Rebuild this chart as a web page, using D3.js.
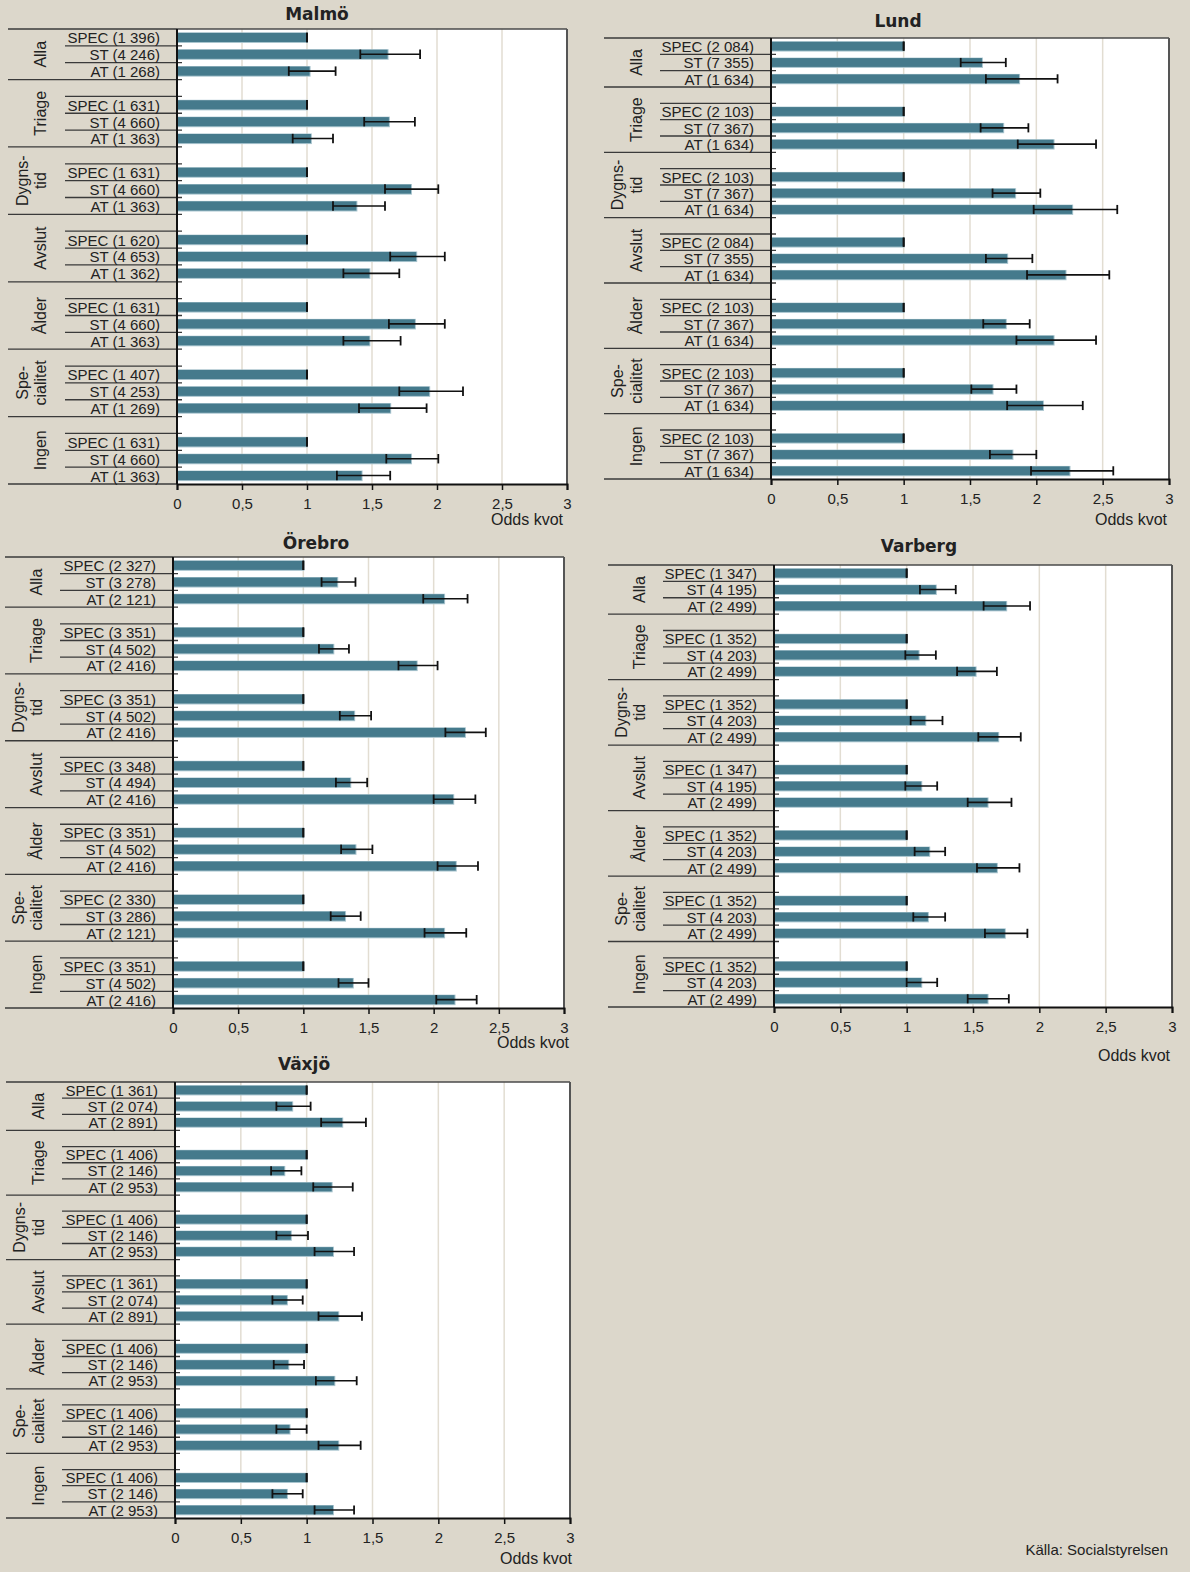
<!DOCTYPE html>
<html>
<head>
<meta charset="utf-8">
<script src="https://cdn.jsdelivr.net/npm/d3@7"></script>
<style>
  body { margin: 0; background: #dcd7cb; }
  svg { display: block; }
  text { font-family: "Liberation Sans", Arial, sans-serif; fill: #222; }
</style>
</head>
<body>
<svg id="chart" width="1190" height="1572"></svg>
<script>
// Adjustment groups (a "|" marks a manual line break) and physician roles
const groups = ["Alla", "Triage", "Dygns-|tid", "Avslut", "Ålder", "Spe-|cialitet", "Ingen"];
const roles = ["SPEC", "ST", "AT"];
const xTicks = [0, 0.5, 1, 1.5, 2, 2.5, 3];

// Each row of the arrays below: [SPEC, ST, AT] for one group
// Malmö
const malmoN  = [[1396,4246,1268],[1631,4660,1363],[1631,4660,1363],[1620,4653,1362],[1631,4660,1363],[1407,4253,1269],[1631,4660,1363]];
const malmoOR = [[1,1.62,1.02],[1,1.63,1.03],[1,1.80,1.38],[1,1.84,1.48],[1,1.83,1.48],[1,1.94,1.64],[1,1.80,1.42]];
const malmoLo = [[1,1.41,0.86],[1,1.44,0.89],[1,1.60,1.20],[1,1.64,1.28],[1,1.63,1.28],[1,1.71,1.40],[1,1.61,1.23]];
const malmoHi = [[1,1.87,1.22],[1,1.83,1.20],[1,2.01,1.60],[1,2.06,1.71],[1,2.06,1.72],[1,2.20,1.92],[1,2.01,1.64]];

// Lund
const lundN  = [[2084,7355,1634],[2103,7367,1634],[2103,7367,1634],[2084,7355,1634],[2103,7367,1634],[2103,7367,1634],[2103,7367,1634]];
const lundOR = [[1,1.59,1.87],[1,1.75,2.13],[1,1.84,2.27],[1,1.78,2.22],[1,1.77,2.13],[1,1.67,2.05],[1,1.82,2.25]];
const lundLo = [[1,1.43,1.62],[1,1.58,1.86],[1,1.67,1.98],[1,1.62,1.93],[1,1.60,1.85],[1,1.51,1.78],[1,1.65,1.96]];
const lundHi = [[1,1.77,2.16],[1,1.94,2.45],[1,2.03,2.61],[1,1.97,2.55],[1,1.95,2.45],[1,1.85,2.35],[1,2.00,2.58]];

// Örebro
const orebroN  = [[2327,3278,2121],[3351,4502,2416],[3351,4502,2416],[3348,4494,2416],[3351,4502,2416],[2330,3286,2121],[3351,4502,2416]];
const orebroOR = [[1,1.26,2.08],[1,1.23,1.87],[1,1.39,2.24],[1,1.36,2.15],[1,1.40,2.17],[1,1.32,2.08],[1,1.38,2.16]];
const orebroLo = [[1,1.14,1.92],[1,1.12,1.73],[1,1.28,2.09],[1,1.25,2.00],[1,1.29,2.03],[1,1.21,1.93],[1,1.27,2.02]];
const orebroHi = [[1,1.40,2.26],[1,1.35,2.03],[1,1.52,2.40],[1,1.49,2.32],[1,1.53,2.34],[1,1.44,2.25],[1,1.50,2.33]];

// Varberg
const varbergN  = [[1347,4195,2499],[1352,4203,2499],[1352,4203,2499],[1347,4195,2499],[1352,4203,2499],[1352,4203,2499],[1352,4203,2499]];
const varbergOR = [[1,1.22,1.75],[1,1.09,1.52],[1,1.14,1.69],[1,1.11,1.61],[1,1.17,1.68],[1,1.16,1.74],[1,1.11,1.61]];
const varbergLo = [[1,1.10,1.58],[1,0.99,1.38],[1,1.03,1.54],[1,0.99,1.46],[1,1.06,1.53],[1,1.05,1.59],[1,1.00,1.46]];
const varbergHi = [[1,1.37,1.93],[1,1.22,1.68],[1,1.27,1.86],[1,1.23,1.79],[1,1.29,1.85],[1,1.29,1.91],[1,1.23,1.77]];

// Växjö
const vaxjoN  = [[1361,2074,2891],[1406,2146,2953],[1406,2146,2953],[1361,2074,2891],[1406,2146,2953],[1406,2146,2953],[1406,2146,2953]];
const vaxjoOR = [[1,0.89,1.27],[1,0.83,1.19],[1,0.88,1.20],[1,0.85,1.24],[1,0.86,1.21],[1,0.87,1.24],[1,0.85,1.20]];
const vaxjoLo = [[1,0.77,1.11],[1,0.73,1.05],[1,0.77,1.06],[1,0.74,1.09],[1,0.75,1.07],[1,0.77,1.09],[1,0.74,1.06]];
const vaxjoHi = [[1,1.03,1.45],[1,0.96,1.35],[1,1.01,1.36],[1,0.97,1.42],[1,0.98,1.38],[1,1.00,1.41],[1,0.97,1.36]];

// Swedish number formatting: decimal comma, space as thousands separator
const sv = d3.formatLocale({ decimal: ",", thousands: " ", grouping: [3], currency: ["", " kr"] });
const fmtN = sv.format(",d");
const fmtX = sv.format("~g");

// Panel frames: title anchor, label column edges and plot rectangle
const panels = [
  { title: "Malmö",   n: malmoN,   or: malmoOR,   lo: malmoLo,   hi: malmoHi,
    tx: 317, ty: 20,   labelLeft: 8,   rowLeft: 65,  x0: 177, x1: 567,  y0: 29,  y1: 484,  oddsX: 563,  oddsY: 525 },
  { title: "Lund",    n: lundN,    or: lundOR,    lo: lundLo,    hi: lundHi,
    tx: 898, ty: 27,   labelLeft: 604, rowLeft: 660, x0: 771, x1: 1169, y0: 38,  y1: 479,  oddsX: 1167, oddsY: 525 },
  { title: "Örebro",  n: orebroN,  or: orebroOR,  lo: orebroLo,  hi: orebroHi,
    tx: 316, ty: 549,  labelLeft: 5,   rowLeft: 60,  x0: 173, x1: 564,  y0: 557, y1: 1008, oddsX: 569,  oddsY: 1048 },
  { title: "Varberg", n: varbergN, or: varbergOR, lo: varbergLo, hi: varbergHi,
    tx: 919, ty: 552,  labelLeft: 608, rowLeft: 663, x0: 774, x1: 1172, y0: 565, y1: 1007, oddsX: 1170, oddsY: 1061 },
  { title: "Växjö",   n: vaxjoN,   or: vaxjoOR,   lo: vaxjoLo,   hi: vaxjoHi,
    tx: 304, ty: 1070, labelLeft: 6,   rowLeft: 62,  x0: 175, x1: 570,  y0: 1082, y1: 1518, oddsX: 572, oddsY: 1564 }
];

const svg = d3.select("#chart");
svg.append("rect").attr("width", 1190).attr("height", 1572).attr("fill", "#dcd7cb");

const BAR = "#457a8c";
const LINE = "#3a3a3a";

// Row index inside a panel: groups of three, separated by one empty row
const rowIndex = (g, r) => 4 * g + r;
const nRows = 27;
const groupEdges = [0, 3, 7, 11, 15, 19, 23, 27];

function drawPanel(p) {
  const g = svg.append("g");
  const x = d3.scaleLinear().domain([0, 3]).range([p.x0, p.x1]);
  const y = d3.scaleBand().domain(d3.range(nRows)).range([p.y0, p.y1]).paddingInner(0);
  const edge = d3.scaleLinear().domain([0, nRows]).range([p.y0, p.y1]);
  const bw = y.bandwidth();
  const barH = bw * 0.54;
  const capH = bw * 0.56;

  // title
  g.append("text").attr("x", p.tx).attr("y", p.ty).attr("text-anchor", "middle")
    .style("font-family", "'DejaVu Sans', sans-serif").style("font-weight", "bold")
    .style("font-size", "17px").attr("fill", "#111").text(p.title);

  // plot background and gridlines
  g.append("rect").attr("x", p.x0).attr("y", p.y0).attr("width", p.x1 - p.x0).attr("height", p.y1 - p.y0)
    .attr("fill", "#ffffff");
  g.selectAll(".grid").data(xTicks.filter(t => t > 0 && t < 3)).enter().append("line")
    .attr("x1", d => x(d)).attr("x2", d => x(d)).attr("y1", p.y0).attr("y2", p.y1)
    .attr("stroke", "#e2ddd2").attr("stroke-width", 1.5);

  // plot frame (top and right)
  g.append("line").attr("x1", p.x0).attr("x2", p.x1).attr("y1", p.y0).attr("y2", p.y0)
    .attr("stroke", "#4a4a4a").attr("stroke-width", 1.5);
  g.append("line").attr("x1", p.x1).attr("x2", p.x1).attr("y1", p.y0).attr("y2", p.y1)
    .attr("stroke", "#555").attr("stroke-width", 2);

  // category table lines in the label column
  const edges = d3.range(nRows + 1);
  g.selectAll(".rowline").data(edges).enter().append("line")
    .attr("x1", k => groupEdges.includes(k) ? p.labelLeft : p.rowLeft)
    .attr("x2", k => (k === 0 || k === nRows) ? p.x0 : p.x0 + 5)
    .attr("y1", k => edge(k)).attr("y2", k => edge(k))
    .attr("stroke", LINE).attr("stroke-width", 1.3);

  // flatten rows
  const rows = [];
  p.or.forEach((vals, gi) => vals.forEach((v, ri) => rows.push({
    g: gi, r: ri, idx: rowIndex(gi, ri), v, lo: p.lo[gi][ri], hi: p.hi[gi][ri],
    label: roles[ri] + " (" + fmtN(p.n[gi][ri]) + ")"
  })));

  // row labels
  g.selectAll(".rlab").data(rows).enter().append("text")
    .attr("x", p.x0 - 17).attr("y", d => y(d.idx) + bw - 2.5)
    .attr("text-anchor", "end").style("font-size", "15px").text(d => d.label);

  // group labels (rotated)
  const cx = (p.labelLeft + p.rowLeft) / 2 + 4;
  groups.forEach((name, gi) => {
    const top = gi === 0 ? 0 : 4 * gi - 1;
    const bot = 4 * gi + 3;
    const cy = (edge(top) + edge(bot)) / 2;
    const lines = name.split("|");
    lines.forEach((ln, li) => {
      const lx = cx - 18.5 * (lines.length - 1 - li);
      g.append("text").attr("transform", `translate(${lx},${cy}) rotate(-90)`)
        .attr("text-anchor", "middle").attr("dominant-baseline", "central")
        .style("font-size", "16px").text(ln);
    });
  });

  // bars with a faint light edge beneath
  g.selectAll(".halo").data(rows).enter().append("rect")
    .attr("x", x(0)).attr("y", d => y(d.idx) + (bw - barH) / 2 - 0.5)
    .attr("width", d => x(d.v) - x(0) + 1).attr("height", barH + 1.5)
    .attr("fill", "#a8c4ce");
  g.selectAll(".bar").data(rows).enter().append("rect")
    .attr("x", x(0)).attr("y", d => y(d.idx) + (bw - barH) / 2)
    .attr("width", d => x(d.v) - x(0)).attr("height", barH)
    .attr("fill", BAR);

  // confidence intervals
  const eb = g.selectAll(".eb").data(rows).enter().append("g");
  eb.filter(d => d.hi > d.lo).append("line")
    .attr("x1", d => x(d.lo)).attr("x2", d => x(d.hi))
    .attr("y1", d => y(d.idx) + bw / 2).attr("y2", d => y(d.idx) + bw / 2)
    .attr("stroke", "#111").attr("stroke-width", 1.6);
  eb.append("line")
    .attr("x1", d => x(d.lo)).attr("x2", d => x(d.lo))
    .attr("y1", d => y(d.idx) + bw / 2 - capH / 2).attr("y2", d => y(d.idx) + bw / 2 + capH / 2)
    .attr("stroke", "#111").attr("stroke-width", 1.8);
  eb.append("line")
    .attr("x1", d => x(d.hi)).attr("x2", d => x(d.hi))
    .attr("y1", d => y(d.idx) + bw / 2 - capH / 2).attr("y2", d => y(d.idx) + bw / 2 + capH / 2)
    .attr("stroke", "#111").attr("stroke-width", 1.8);

  // axes
  g.append("line").attr("x1", p.x0).attr("x2", p.x0).attr("y1", p.y0).attr("y2", p.y1)
    .attr("stroke", "#111").attr("stroke-width", 2);
  const ax = g.append("g").attr("transform", `translate(0,${p.y1})`)
    .call(d3.axisBottom(x).tickValues(xTicks).tickFormat(fmtX).tickSize(6).tickPadding(8));
  ax.select(".domain").attr("stroke", "#111").attr("stroke-width", 2);
  ax.selectAll(".tick line").attr("stroke", "#111").attr("stroke-width", 1.5);
  ax.selectAll(".tick text").style("font-size", "15px")
    .style("font-family", "'Liberation Sans', Arial, sans-serif").attr("fill", "#222");

  g.append("text").attr("x", p.oddsX).attr("y", p.oddsY).attr("text-anchor", "end")
    .style("font-size", "16px").text("Odds kvot");
}

panels.forEach(drawPanel);

svg.append("text").attr("x", 1168).attr("y", 1555).attr("text-anchor", "end")
  .style("font-size", "15px").text("Källa: Socialstyrelsen");
</script>
</body>
</html>
